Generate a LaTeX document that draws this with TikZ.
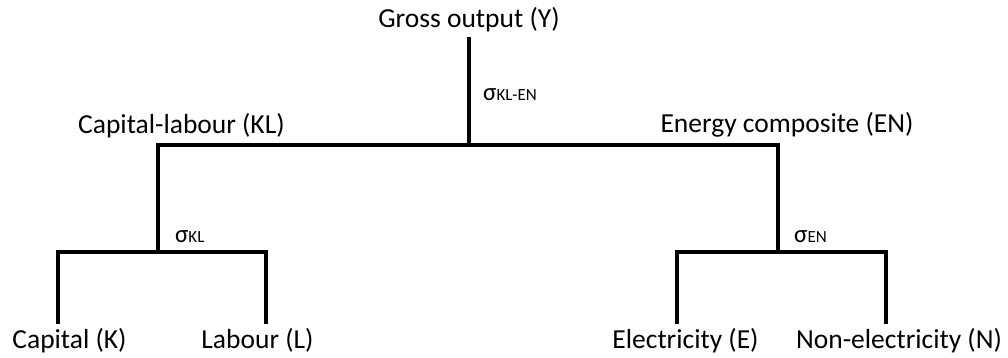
\documentclass[tikz,border=0pt]{standalone}
\usepackage{fontspec}
\setmainfont{Carlito}
\newcommand\sigmalab[1]{{\fontsize{25}{27}\selectfont σ}{\fontsize{17}{19}\selectfont #1}}
\begin{document}
\begin{tikzpicture}[x=1pt,y=-1pt,
  lbl/.style={anchor=base,inner sep=0pt,font=\fontsize{27.5}{30}\selectfont},
  sig/.style={anchor=base west,inner sep=0pt},
  branch/.style={line width=4pt,line join=miter,line cap=butt}]
\useasboundingbox (0,0) rectangle (1008,358);
% labels
\node[lbl] (Y) at (469,28) {Gross output (Y)};
\node[lbl] (KL) at (181.5,134) {Capital-labour (KL)};
\node[lbl] (EN) at (787,133) {Energy composite (EN)};
\node[lbl] (K) at (69.5,348) {Capital (K)};
\node[lbl] (L) at (257.5,348) {Labour (L)};
\node[lbl] (E) at (685.5,348) {Electricity (E)};
\node[lbl] (N) at (899,348) {Non-electricity (N)};
\node[sig] (sY) at (483,101) {\sigmalab{KL-EN}};
\node[sig] (sKL) at (175,242) {\sigmalab{KL}};
\node[sig] (sEN) at (794,242) {\sigmalab{EN}};
% junction points
\coordinate (yTop) at (469,37);
\coordinate (yJ) at (469,145);
\coordinate (klJ) at (158,145);
\coordinate (enJ) at (778,145);
\coordinate (klB) at (158,252);
\coordinate (enB) at (778,252);
\coordinate (kTop) at (58,252);
\coordinate (kBot) at (58,324);
\coordinate (lTop) at (266,252);
\coordinate (lBot) at (266,324);
\coordinate (eTop) at (677,252);
\coordinate (eBot) at (677,324);
\coordinate (nTop) at (886,252);
\coordinate (nBot) at (886,324);
% tree
\draw[branch] (yTop) -- (yJ);
\draw[branch] (klB) -- (klJ) -- (enJ) -- (enB);
\draw[branch] (kBot) -- (kTop) -- (lTop) -- (lBot);
\draw[branch] (eBot) -- (eTop) -- (nTop) -- (nBot);
\end{tikzpicture}
\end{document}
